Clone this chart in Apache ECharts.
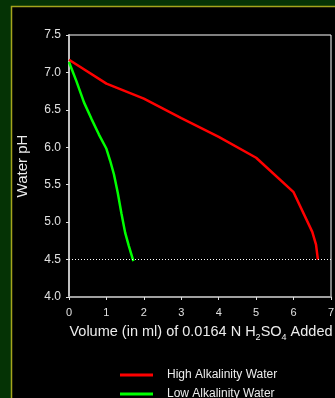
<!DOCTYPE html>
<html>
<head>
<meta charset="utf-8">
<script src="https://cdn.jsdelivr.net/npm/echarts@6/dist/echarts.min.js"></script>
<style>
    html, body { margin: 0; padding: 0; background: #053305; }
    #chart { width: 335px; height: 398px; }
</style>
</head>
<body>
<div id="chart"></div>
<script>
    // titration curves, pH vs volume of acid added
    var highVolume = [0, 1, 2, 3, 4, 5, 6, 6.5, 6.6, 6.65];
    var highPH = [7.17, 6.85, 6.65, 6.39, 6.14, 5.86, 5.4, 4.87, 4.7, 4.5];

    var lowVolume = [0, 0.2, 0.4, 0.6, 0.8, 1.0, 1.1, 1.2, 1.3, 1.4, 1.5, 1.6, 1.72];
    var lowPH = [7.14, 6.88, 6.6, 6.38, 6.17, 5.98, 5.82, 5.64, 5.4, 5.12, 4.86, 4.68, 4.48];

    var endpointPH = 4.5;
    var seriesNames = ['High Alkalinity Water', 'Low Alkalinity Water'];

    function pairs(xs, ys) {
        var out = [];
        for (var i = 0; i < xs.length; i++) {
            out.push([xs[i], ys[i]]);
        }
        return out;
    }

    // one legend per row, the container is too short for a vertical one
    function legendRow(name, top) {
        return {
            left: 115,
            top: top,
            itemWidth: 33,
            itemHeight: 3,
            icon: 'rect',
            data: [name],
            textStyle: {
                color: '#ececec',
                fontSize: 12,
                padding: [0, 0, 0, 9]
            }
        };
    }

    var chart = echarts.init(document.getElementById('chart'));

    var options = {
        backgroundColor: '#053305',
        animation: false,
        textStyle: {
            fontFamily: 'Liberation Sans, Arial, sans-serif'
        },
        graphic: [
            {
                type: 'rect',
                z: -10,
                shape: { x: 11.5, y: 6.5, width: 340, height: 400 },
                style: { fill: '#000000', stroke: '#a4a41c', lineWidth: 1.5 }
            }
        ],
        grid: {
            left: 69,
            top: 35,
            right: 4,
            bottom: 101,
            outerBoundsMode: 'none',
            containLabel: false,
            show: true,
            borderColor: '#ffffff',
            borderWidth: 1
        },
        legend: [
            legendRow(seriesNames[0], 364),
            legendRow(seriesNames[1], 383)
        ],
        xAxis: [
            {
                type: 'value',
                min: 0,
                max: 7,
                interval: 1,
                splitLine: { show: false },
                axisLine: { lineStyle: { color: '#a0a0a0', width: 2 } },
                axisTick: { length: 3, lineStyle: { color: '#e0e0e0' } },
                axisLabel: { color: '#e0e0e0', fontSize: 11, margin: 10 },
                name: '{a|Volume (in ml) of 0.0164 N H}{s|2}{a|SO}{s|4}{a| Added}',
                nameLocation: 'middle',
                nameGap: 26,
                nameTextStyle: {
                    padding: [0, 0, 0, 2],
                    rich: {
                        a: { color: '#ececec', fontSize: 14.5, lineHeight: 18 },
                        s: { color: '#ececec', fontSize: 9, lineHeight: 18, padding: [10, 0, 0, 0] }
                    }
                }
            }
        ],
        yAxis: [
            {
                type: 'value',
                min: 4,
                max: 7.5,
                interval: 0.5,
                splitLine: { show: false },
                axisLine: { show: true, lineStyle: { color: '#c0c0c0', width: 2 } },
                axisTick: { show: true, length: 3, lineStyle: { color: '#e0e0e0' } },
                axisLabel: {
                    color: '#e0e0e0',
                    fontSize: 12,
                    margin: 8,
                    formatter: function (v) { return v.toFixed(1); }
                },
                name: 'Water pH',
                nameLocation: 'middle',
                nameGap: 39,
                nameTextStyle: { color: '#ececec', fontSize: 15 }
            }
        ],
        series: [
            {
                name: seriesNames[0],
                type: 'line',
                symbol: 'none',
                color: '#ff0000',
                lineStyle: { width: 2.5, color: '#ff0000' },
                data: pairs(highVolume, highPH),
                markLine: {
                    silent: true,
                    symbol: 'none',
                    label: { show: false },
                    lineStyle: { color: '#ffffff', type: [1, 2], width: 1 },
                    data: [{ yAxis: endpointPH }]
                },
                z: 3
            },
            {
                name: seriesNames[1],
                type: 'line',
                symbol: 'none',
                color: '#00ff00',
                lineStyle: { width: 2.5, color: '#00ff00' },
                data: pairs(lowVolume, lowPH),
                z: 3
            }
        ]
    };

    chart.setOption(options, true);
</script>
</body>
</html>
